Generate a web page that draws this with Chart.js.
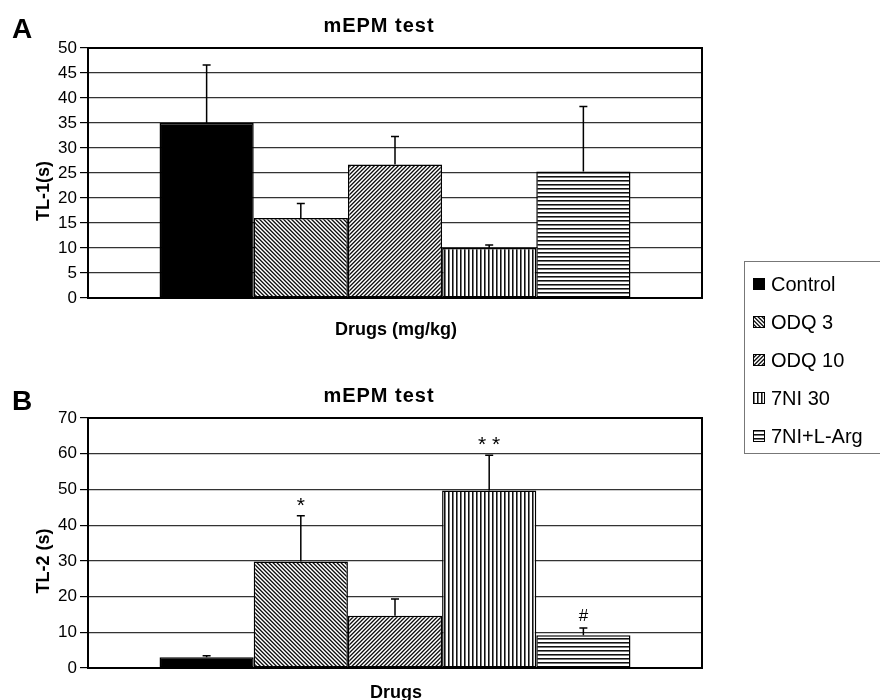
<!DOCTYPE html>
<html>
<head>
<meta charset="utf-8">
<script src="https://cdn.jsdelivr.net/npm/chart.js@4.4.0/dist/chart.umd.min.js"></script>
<style>
  html, body { margin: 0; padding: 0; background: #fff; overflow: hidden; }
  #wrap { position: relative; width: 880px; height: 700px; }
  canvas { position: absolute; left: 0; }
  #legend {
    position: absolute; left: 744px; top: 261px; width: 160px; height: 193px;
    border: 1px solid #777; box-sizing: border-box;
    font-family: "Liberation Sans", Arial, sans-serif; font-size: 20px; color: #000;
  }
  #legend div { position: absolute; left: 8px; height: 24px; line-height: 24px; white-space: nowrap; }
  #legend canvas { position: static; vertical-align: middle; margin-right: 6px; margin-top: -3px; }
</style>
</head>
<body>
<div id="wrap">
  <canvas id="chartA" width="880" height="350" style="top:0"></canvas>
  <canvas id="chartB" width="880" height="350" style="top:350px"></canvas>
  <div id="legend"></div>
</div>
<script>
// groups (one bar each, shared legend)
const groups = ['Control', 'ODQ 3', 'ODQ 10', '7NI 30', '7NI+L-Arg'];

// panel A: TL-1 (s), mean and SEM
const tl1Mean = [35, 16, 26.7, 10, 25.3];
const tl1Sem = [11.6, 2.9, 5.6, 0.6, 13];
const tl1Marks = ['', '', '', '', ''];
const tl1Ticks = { min: 0, max: 50, step: 5 };

// panel B: TL-2 (s)
const tl2Mean = [3, 29.8, 14.6, 49.7, 9.2];
const tl2Sem = [0.4, 12.8, 4.7, 9.9, 2];
const tl2Marks = ['', '*', '', '* *', '#'];
const tl2Ticks = { min: 0, max: 70, step: 10 };

const FONT = '"Liberation Sans", Arial, sans-serif';

// fill patterns like the old excel hatching
function makePattern(kind) {
  const c = document.createElement('canvas');
  c.width = 4; c.height = 4;
  const g = c.getContext('2d');
  g.fillStyle = '#fff';
  g.fillRect(0, 0, 4, 4);
  if (kind === 'solid') {
    g.fillStyle = '#000';
    g.fillRect(0, 0, 4, 4);
  }
  for (let i = 0; i < 4; i++) {
    if (kind === 'back') {
      g.fillStyle = '#111'; g.fillRect(i, i, 1, 1);
      g.fillStyle = '#666'; g.fillRect((i + 1) % 4, i, 1, 1);
      g.fillStyle = '#bbb'; g.fillRect((i + 3) % 4, i, 1, 1);
    } else if (kind === 'fwd') {
      g.fillStyle = '#111'; g.fillRect(3 - i, i, 1, 1);
      g.fillStyle = '#666'; g.fillRect((4 - i) % 4, i, 1, 1);
      g.fillStyle = '#bbb'; g.fillRect((6 - i) % 4, i, 1, 1);
    } else if (kind === 'vert') {
      g.fillStyle = '#111'; g.fillRect(0, i, 1, 1);
      g.fillStyle = '#777'; g.fillRect(1, i, 1, 1);
    } else if (kind === 'horiz') {
      g.fillStyle = '#111'; g.fillRect(i, 0, 1, 1);
      g.fillStyle = '#777'; g.fillRect(i, 1, 1, 1);
    }
  }
  return g.createPattern(c, 'repeat');
}

const fills = ['solid', 'back', 'fwd', 'vert', 'horiz'].map(makePattern);

// error bars (upper only), significance marks, frame and panel texts
const panelPlugin = {
  id: 'panel',
  afterDatasetsDraw(chart, args, opts) {
    const ctx = chart.ctx;
    const y = chart.scales.y;
    const a = chart.chartArea;
    ctx.save();
    ctx.strokeStyle = '#000';
    ctx.fillStyle = '#000';
    chart.data.datasets.forEach((ds, i) => {
      const bar = chart.getDatasetMeta(i).data[0];
      const top = y.getPixelForValue(ds.data[0] + opts.sem[i]);
      ctx.lineWidth = 1.5;
      ctx.beginPath();
      ctx.moveTo(bar.x, bar.y);
      ctx.lineTo(bar.x, top);
      ctx.moveTo(bar.x - 4, top);
      ctx.lineTo(bar.x + 4, top);
      ctx.stroke();
      if (opts.marks[i]) {
        const isStar = opts.marks[i].indexOf('*') >= 0;
        ctx.font = (isStar ? '21px ' : '17px ') + FONT;
        ctx.textAlign = 'center';
        ctx.textBaseline = 'middle';
        ctx.fillText(opts.marks[i], bar.x, top - (isStar ? 10 : 12));
      }
    });
    ctx.lineWidth = 2;
    ctx.strokeRect(a.left, a.top, a.right - a.left, a.bottom - a.top);
    ctx.restore();
  },
  afterDraw(chart, args, opts) {
    const ctx = chart.ctx;
    const a = chart.chartArea;
    ctx.save();
    ctx.fillStyle = '#000';
    ctx.textAlign = 'center';
    ctx.textBaseline = 'middle';
    ctx.font = '900 28px ' + FONT;
    ctx.fillText(opts.letter, 22, opts.letterY);
    ctx.font = 'bold 20px ' + FONT;
    ctx.letterSpacing = '1px';
    ctx.fillText(opts.title, 379, a.top - 22);
    ctx.letterSpacing = '0px';
    ctx.font = 'bold 18px ' + FONT;
    ctx.fillText(opts.xTitle, 396, a.bottom + opts.xTitleGap);
    ctx.translate(44, (a.top + a.bottom) / 2 + 18);
    ctx.rotate(-Math.PI / 2);
    ctx.fillText(opts.yTitle, 0, 0);
    ctx.restore();
  }
};

function buildChart(id, means, sem, marks, ticks, bottomH, topPad, texts) {
  return new Chart(document.getElementById(id), {
    type: 'bar',
    data: {
      labels: [''],
      datasets: groups.map((name, i) => ({
        label: name,
        data: [means[i]],
        backgroundColor: fills[i],
        borderColor: '#000',
        borderWidth: 1.5,
        borderSkipped: false
      }))
    },
    options: {
      responsive: false,
      animation: false,
      categoryPercentage: 0.767,
      barPercentage: 1.0,
      layout: { padding: { top: topPad, right: 178, left: 0, bottom: 0 } },
      scales: {
        x: {
          ticks: { display: false },
          grid: { display: false },
          border: { display: true, color: '#000', width: 2 },
          afterFit(scale) { scale.height = bottomH; }
        },
        y: {
          min: ticks.min,
          max: ticks.max,
          ticks: {
            stepSize: ticks.step,
            color: '#000',
            padding: 3,
            font: { family: FONT, size: 17 }
          },
          grid: { color: '#333', lineWidth: 1.2, tickLength: 8, tickColor: '#000' },
          border: { display: true, color: '#000', width: 2 },
          afterFit(scale) { scale.width = 88; }
        }
      },
      plugins: {
        legend: { display: false },
        tooltip: { enabled: false },
        panel: Object.assign({ sem: sem, marks: marks }, texts)
      }
    },
    plugins: [panelPlugin]
  });
}

buildChart('chartA', tl1Mean, tl1Sem, tl1Marks, tl1Ticks, 52, 48,
  { letter: 'A', letterY: 30, title: 'mEPM test', yTitle: 'TL-1(s)', xTitle: 'Drugs (mg/kg)', xTitleGap: 32 });
buildChart('chartB', tl2Mean, tl2Sem, tl2Marks, tl2Ticks, 32, 68,
  { letter: 'B', letterY: 52, title: 'mEPM test', yTitle: 'TL-2 (s)', xTitle: 'Drugs', xTitleGap: 25 });

// shared legend
const legend = document.getElementById('legend');
groups.forEach((name, i) => {
  const row = document.createElement('div');
  row.style.top = (10 + i * 38) + 'px';
  const sw = document.createElement('canvas');
  sw.width = 12; sw.height = 12;
  const g = sw.getContext('2d');
  g.fillStyle = fills[i];
  g.fillRect(0, 0, 12, 12);
  g.strokeStyle = '#000';
  g.lineWidth = 1;
  g.strokeRect(0.5, 0.5, 11, 11);
  row.appendChild(sw);
  row.appendChild(document.createTextNode(name));
  legend.appendChild(row);
});
</script>
</body>
</html>
